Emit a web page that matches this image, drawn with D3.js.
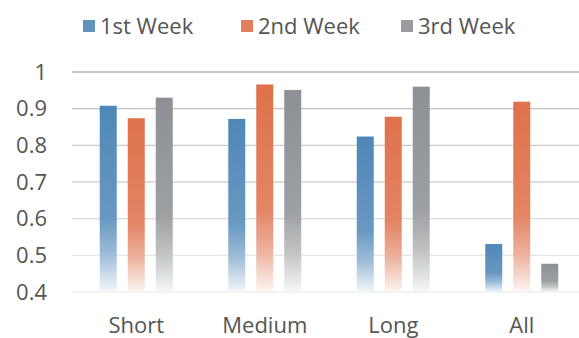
<!DOCTYPE html>
<html>
<head>
<meta charset="utf-8">
<script src="https://cdn.jsdelivr.net/npm/d3@7"></script>
<style>
  html, body { margin: 0; padding: 0; background: #fff; }
  svg { display: block; }
  text { font-family: "Open Sans", "Liberation Sans", sans-serif; fill: #555555; }
</style>
</head>
<body>
<svg id="chart" width="579" height="338"></svg>
<script>
// Accuracy by trip length, one bar per week
const categories = ["Short", "Medium", "Long", "All"];
const seriesNames = ["1st Week", "2nd Week", "3rd Week"];
const week1 = [0.908, 0.872, 0.824, 0.531];
const week2 = [0.874, 0.966, 0.878, 0.919];
const week3 = [0.930, 0.951, 0.960, 0.477];
const yTicks = [0.4, 0.5, 0.6, 0.7, 0.8, 0.9, 1];
const seriesColors = ["#4f87b8", "#df714b", "#8d9094"];

const seriesValues = [week1, week2, week3];

const svg = d3.select("#chart");

const x0 = d3.scaleBand().domain(categories).range([72, 586])
  .paddingInner(0.432).paddingOuter(0.216);
const x1 = d3.scaleBand().domain(seriesNames).range([0, x0.bandwidth()])
  .paddingInner(0.393).paddingOuter(0);
const y = d3.scaleLinear().domain([0.4, 1]).range([292, 72]);

// Bar fill: solid at the top, fading out towards the base
const defs = svg.append("defs");
seriesNames.forEach((name, i) => {
  const c = d3.color(seriesColors[i]);
  const g = defs.append("linearGradient")
    .attr("id", "grad" + i)
    .attr("x1", 0).attr("y1", 0).attr("x2", 0).attr("y2", 1);
  g.append("stop").attr("offset", 0).attr("stop-color", c.formatHex());
  g.append("stop").attr("offset", 0.6).attr("stop-color", d3.interpolateRgb(c, "#fff")(0.14));
  g.append("stop").attr("offset", 0.8).attr("stop-color", d3.interpolateRgb(c, "#fff")(0.45));
  g.append("stop").attr("offset", 1).attr("stop-color", d3.interpolateRgb(c, "#fff")(0.93));
});

// Gridlines: lighter towards the bottom of the plot
const gridColor = d3.scaleLinear().domain([0.4, 1]).range(["#eeeeee", "#b8b8b8"]);
svg.append("g").selectAll("line").data(yTicks).join("line")
  .attr("x1", 72).attr("x2", 586)
  .attr("y1", d => y(d)).attr("y2", d => y(d))
  .attr("stroke", d => gridColor(d))
  .attr("stroke-width", 1.3);

// Y axis labels
const yAxis = d3.axisLeft(y).tickValues(yTicks).tickSize(0).tickPadding(0)
  .tickFormat(d => d3.format("")(d));
svg.append("g").attr("transform", "translate(47,0)").call(yAxis)
  .call(g => g.select(".domain").remove())
  .selectAll("text")
  .style("font-size", "22px")
  .attr("fill", "#555555")
  .style("font-family", "'Open Sans', sans-serif");

// Bars
const groups = svg.append("g").selectAll("g").data(categories).join("g")
  .attr("transform", d => `translate(${x0(d)},0)`);
groups.selectAll("rect")
  .data((d, ci) => seriesNames.map((s, si) => ({ s, si, v: seriesValues[si][ci] })))
  .join("rect")
  .attr("x", d => x1(d.s))
  .attr("width", x1.bandwidth())
  .attr("y", d => y(d.v))
  .attr("height", d => y(0.4) - y(d.v))
  .attr("fill", d => `url(#grad${d.si})`);

// Category axis labels
const xAxis = d3.axisBottom(x0).tickSize(0).tickPadding(0);
svg.append("g").attr("transform", "translate(0,317)").call(xAxis)
  .call(g => g.select(".domain").remove())
  .selectAll("text")
  .attr("dy", "0.71em")
  .style("font-size", "22px")
  .attr("fill", "#555555")
  .style("font-family", "'Open Sans', sans-serif");

// Legend
const legendX = [83, 241, 401];
const legend = svg.append("g").selectAll("g").data(seriesNames).join("g")
  .attr("transform", (d, i) => `translate(${legendX[i]},0)`);
legend.append("rect")
  .attr("x", 0).attr("y", 20).attr("width", 12).attr("height", 12)
  .attr("fill", (d, i) => d3.interpolateRgb(seriesColors[i], "#fff")(0.1));
legend.append("text")
  .attr("x", 17).attr("y", 34)
  .style("font-size", "22px")
  .text(d => d);
</script>
</body>
</html>
